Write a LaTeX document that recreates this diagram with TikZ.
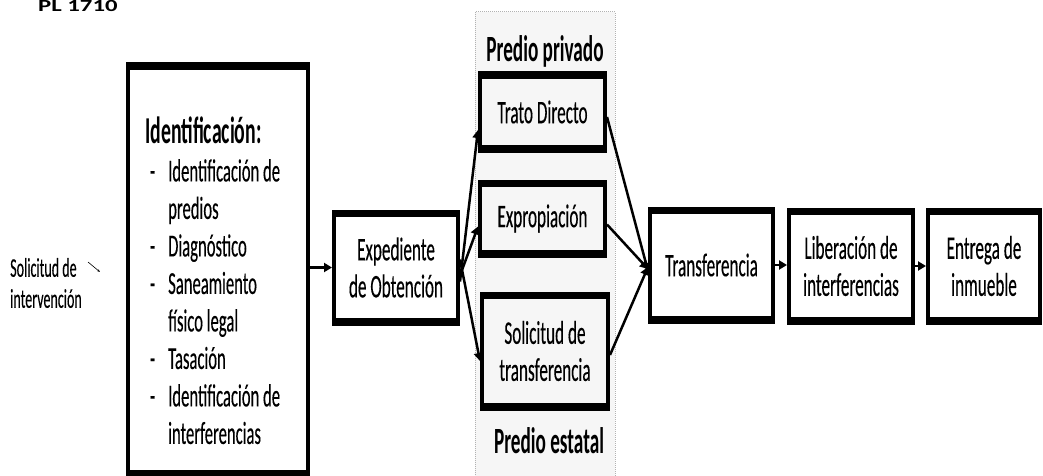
\documentclass[tikz,border=0pt]{standalone}
\usepackage{fontspec}
\setmainfont{Carlito}[FakeStretch=0.52, UprightFeatures={FakeBold=0.25}]
\usetikzlibrary{arrows.meta}
\begin{document}
\begin{tikzpicture}[x=1pt,y=-1pt,
  box/.style={draw, line width=4pt, inner sep=0pt, align=center,
    font=\fontsize{33}{37}\selectfont,
    append after command={(\tikzlastnode.north west) edge[line width=7pt,-] (\tikzlastnode.north east)
      (\tikzlastnode.south west) edge[line width=7pt,-] (\tikzlastnode.south east)}},
  head/.style={font=\fontsize{37}{40}\selectfont\bfseries, inner sep=0pt, anchor=base},
  conn/.style={line width=2.5pt, -{Triangle[length=8pt,width=9pt]}},
]
\clip (0,0) rectangle (1043,476);
\useasboundingbox (0,0) rectangle (1043,476);
% shaded band
\path[fill=gray!7, draw=gray!60, densely dotted, line width=1pt] (475,12) rectangle (615,480);
% title
\node[font=\fontsize{17}{18}\selectfont\bfseries, anchor=north west, inner sep=0pt] (title) at (38,0) {\scalebox{2.8}[1]{PL 1710}};
% solicitud
\node[font=\fontsize{27}{31}\selectfont, align=left, inner sep=0pt] (sol) at (46,283) {Solicitud de\\intervención};
\coordinate (sa) at (88,262);
\coordinate (sb) at (100,272);
\draw[line width=0.6pt, -{Stealth[length=3pt]}] (sa) -- (sb);
% big box
\node[box, minimum width=180, minimum height=404] (id) at (218,270) {};
\node[anchor=west, inner sep=0pt, font=\fontsize{38}{40}\selectfont\bfseries] (idh) at (145,130) {Identificación:};
\node[anchor=north west, align=left, inner sep=0pt, font=\fontsize{32}{37.5}\selectfont] (idt) at (146,159)
 {\makebox[22pt][l]{\ -}Identificación de\\
  \hspace*{22pt}predios\\
  \makebox[22pt][l]{\ -}Diagnóstico\\
  \makebox[22pt][l]{\ -}Saneamiento\\
  \hspace*{22pt}físico legal\\
  \makebox[22pt][l]{\ -}Tasación\\
  \makebox[22pt][l]{\ -}Identificación de\\
  \hspace*{22pt}interferencias};
% boxes
\node[box, minimum width=124, minimum height=105] (exp) at (396,267.5) {Expediente\\de Obtención};
\node[box, minimum width=125, minimum height=70] (trato) at (542.5,112) {Trato Directo};
\node[box, minimum width=125, minimum height=67] (expr) at (542.5,218.5) {Expropiación};
\node[box, minimum width=126, minimum height=108] (soltr) at (545,351) {Solicitud de\\transferencia};
\node[box, minimum width=123, minimum height=106] (tra) at (711.5,265) {Transferencia};
\node[box, minimum width=124, minimum height=106] (lib) at (851,266) {Liberación de\\interferencias};
\node[box, minimum width=112, minimum height=106] (ent) at (984,266) {Entrega de\\inmueble};
% labels
\node[head] (priv) at (545,62) {Predio privado};
\node[head] (est) at (549,453) {Predio estatal};
% connectors
\draw[conn] (id.east |- exp.west) -- (exp.west);
\draw[conn] ([yshift=-14pt]exp.east) -- ([yshift=-18pt]trato.west);
\draw[conn] ([yshift=-8pt]exp.east) -- ([yshift=-8pt]expr.west);
\draw[conn] ([yshift=8pt]exp.east) -- ([yshift=-10pt]soltr.west);
\draw[conn] ([yshift=-5pt]trato.east) -- ([yshift=-6pt]tra.west);
\draw[conn] ([yshift=-6pt]expr.east) -- ([yshift=-4pt]tra.west);
\draw[conn] ([yshift=-4pt]soltr.east) -- ([yshift=-2pt]tra.west);
\draw[conn] (tra.east) -- (tra.east -| lib.west);
\draw[conn] (lib.east) -- (lib.east -| ent.west);
\end{tikzpicture}
\end{document}
